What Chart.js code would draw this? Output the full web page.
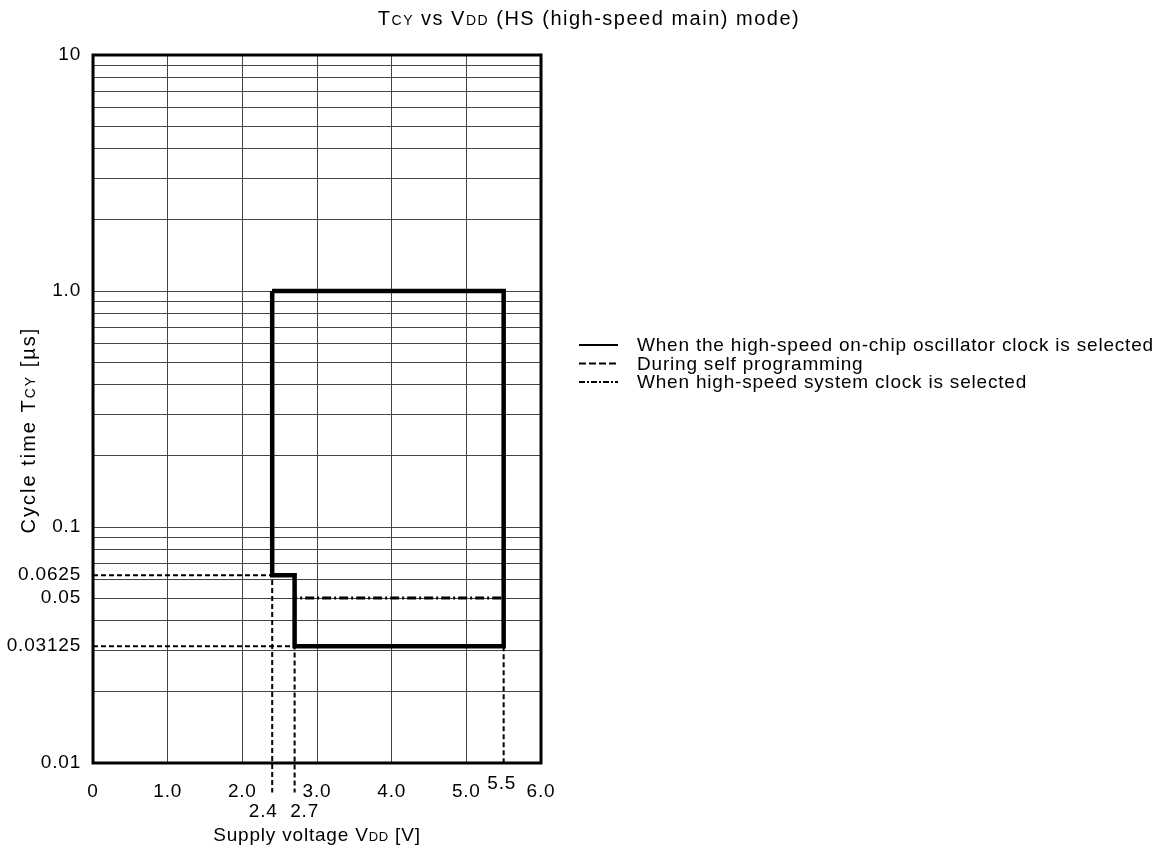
<!DOCTYPE html>
<html>
<head>
<meta charset="utf-8">
<title>TCY vs VDD (HS mode)</title>
<script src="https://cdn.jsdelivr.net/npm/chart.js@4/dist/chart.umd.min.js"></script>
<style>
  body { margin: 0; background: #fff; }
  canvas { display: block; }
</style>
</head>
<body>
<canvas id="tcyChart" width="1169" height="860"></canvas>
<script>
// outline of the operating area (x = VDD [V], y = TCY [us])
const oscVdd = [2.4, 2.4, 2.7, 2.7, 5.5, 5.5, 2.4];
const oscTcy = [1.0, 0.0625, 0.0625, 0.03125, 0.03125, 1.0, 1.0];

const selfProgVdd = [2.4, 2.4, 2.7, 2.7, 5.5, 5.5, 2.4];
const selfProgTcy = [1.0, 0.0625, 0.0625, 0.03125, 0.03125, 1.0, 1.0];

const hsSysVdd = [2.4, 2.4, 2.7, 2.7, 5.5, 5.5, 2.4];
const hsSysTcy = [1.0, 0.0625, 0.0625, 0.05, 0.05, 1.0, 1.0];

// thin dashed guides to the axes (null = break)
const guideVdd = [0, 2.4, 2.4, 2.4, 0, 2.7, 2.7, 2.7, 5.5, 5.5];
const guideTcy = [0.0625, 0.0625, 0.0075, null, 0.03125, 0.03125, 0.0075, null, 0.03125, 0.01];

const yTickValues = [10, 1, 0.1, 0.0625, 0.05, 0.03125, 0.01];
const yTickLabels = ['10', '1.0', '0.1', '0.0625', '0.05', '0.03125', '0.01'];
const xTickValues = [0, 1, 2, 3, 4, 5, 6];
const xTickLabels = ['0', '1.0', '2.0', '3.0', '4.0', '5.0', '6.0'];
const xExtraValues = [2.4, 2.7, 5.5];
const xExtraLabels = ['2.4', '2.7', '5.5'];

const legendLabels = [
  'When the high-speed on-chip oscillator clock is selected',
  'During self programming',
  'When high-speed system clock is selected'
];

const FONT = 'Arial, "Liberation Sans", sans-serif';
const TICK_SPACING = '0.8px';

function toPoints(xs, ys) {
  return xs.map((x, i) => ({ x: x, y: ys[i] }));
}

function sameVal(a, b) {
  return Math.abs(a - b) / b < 1e-6;
}

// log grid: 1..9 in every decade
const yGrid = [];
for (let k = -2; k <= 0; k++) {
  for (let m = 1; m <= 9; m++) yGrid.push(m * Math.pow(10, k));
}
yGrid.push(10);
const yHidden = [0.0625, 0.03125];

// draws text made of parts with different sizes on one baseline
function richText(ctx, parts, x, y, align, spacing) {
  ctx.letterSpacing = spacing;
  let total = 0;
  parts.forEach(p => {
    ctx.font = p.s + 'px ' + FONT;
    total += ctx.measureText(p.t).width;
  });
  let cx = align === 'center' ? x - total / 2 : x;
  ctx.textAlign = 'left';
  ctx.textBaseline = 'alphabetic';
  parts.forEach(p => {
    ctx.font = p.s + 'px ' + FONT;
    ctx.fillText(p.t, cx, y);
    cx += ctx.measureText(p.t).width;
  });
}

const decorPlugin = {
  id: 'decor',
  beforeLayout(chart) {
    chart.ctx.letterSpacing = TICK_SPACING;
  },
  beforeDraw(chart) {
    chart.ctx.letterSpacing = TICK_SPACING;
  },
  afterDraw(chart) {
    const ctx = chart.ctx;
    const area = chart.chartArea;
    const xs = chart.scales.x;
    ctx.save();
    ctx.fillStyle = '#000';

    // frame
    ctx.strokeStyle = '#000';
    ctx.lineWidth = 3;
    ctx.setLineDash([]);
    ctx.strokeRect(area.left, area.top, area.right - area.left, area.bottom - area.top);

    // title
    richText(ctx, [
      { t: 'T', s: 20 }, { t: 'CY', s: 14 }, { t: ' vs V', s: 20 }, { t: 'DD', s: 14 },
      { t: ' (HS (high-speed main) mode)', s: 20 }
    ], 589, 25, 'center', '1.5px');

    // x axis title
    richText(ctx, [
      { t: 'Supply voltage V', s: 19 }, { t: 'DD', s: 13 }, { t: ' [V]', s: 19 }
    ], (area.left + area.right) / 2, 841, 'center', '0.8px');

    // y axis title
    ctx.save();
    ctx.translate(35, 430);
    ctx.rotate(-Math.PI / 2);
    richText(ctx, [
      { t: 'Cycle time T', s: 20 }, { t: 'CY', s: 14 }, { t: ' [\u00b5s]', s: 20 }
    ], 0, 0, 'center', '2px');
    ctx.restore();

    // extra x labels under the guides
    ctx.letterSpacing = TICK_SPACING;
    ctx.font = '19px ' + FONT;
    ctx.textAlign = 'center';
    ctx.textBaseline = 'middle';
    const extraOffset = [[-9, 49], [10, 49], [-2, 21]];
    xExtraValues.forEach((v, i) => {
      const px = xs.getPixelForValue(v);
      ctx.fillText(xExtraLabels[i], px + extraOffset[i][0], area.bottom + extraOffset[i][1]);
    });

    // legend
    const dashes = [[], [7, 3], [6, 2, 2, 2]];
    const lx = 579, ly = 345, step = 18.5;
    legendLabels.forEach((label, i) => {
      const y = ly + i * step;
      ctx.beginPath();
      ctx.lineWidth = 2;
      ctx.setLineDash(dashes[i]);
      ctx.moveTo(lx, y);
      ctx.lineTo(lx + 39, y);
      ctx.stroke();
      ctx.setLineDash([]);
      ctx.font = '19px ' + FONT;
      ctx.textAlign = 'left';
      ctx.textBaseline = 'middle';
      ctx.fillText(label, lx + 58, y + 1);
    });
    ctx.restore();
  }
};

const lineBase = {
  showLine: true,
  pointRadius: 0,
  tension: 0,
  fill: false,
  borderColor: '#000',
  spanGaps: false
};

new Chart(document.getElementById('tcyChart').getContext('2d'), {
  type: 'line',
  data: {
    datasets: [
      Object.assign({}, lineBase, {
        label: legendLabels[0],
        data: toPoints(oscVdd, oscTcy),
        borderWidth: 4.5
      }),
      Object.assign({}, lineBase, {
        label: legendLabels[1],
        data: toPoints(selfProgVdd, selfProgTcy),
        borderWidth: 3,
        borderDash: [7, 3]
      }),
      Object.assign({}, lineBase, {
        label: legendLabels[2],
        data: toPoints(hsSysVdd, hsSysTcy),
        borderWidth: 3,
        borderDash: [9, 3, 2, 3]
      }),
      Object.assign({}, lineBase, {
        label: 'guides',
        data: toPoints(guideVdd, guideTcy),
        borderWidth: 2,
        borderDash: [5, 3],
        clip: false
      })
    ]
  },
  options: {
    responsive: false,
    animation: false,
    devicePixelRatio: 1,
    layout: { padding: { top: 55, right: 628, bottom: 0, left: 0 } },
    plugins: {
      legend: { display: false },
      title: { display: false },
      tooltip: { enabled: false }
    },
    scales: {
      x: {
        type: 'linear',
        min: 0,
        max: 6,
        border: { display: false },
        grid: { color: '#444', lineWidth: 1, drawTicks: false },
        afterBuildTicks: (scale) => {
          scale.ticks = xTickValues.map(v => ({ value: v }));
        },
        afterFit: (scale) => { scale.height = 97; },
        ticks: {
          color: '#000',
          padding: 17,
          maxRotation: 0,
          autoSkip: false,
          font: { family: FONT, size: 19 },
          callback: (value) => {
            const i = xTickValues.indexOf(value);
            return i >= 0 ? xTickLabels[i] : '';
          }
        }
      },
      y: {
        type: 'logarithmic',
        min: 0.01,
        max: 10,
        border: { display: false },
        grid: {
          drawTicks: false,
          lineWidth: 1,
          color: (c) => (c.tick && yHidden.some(h => sameVal(c.tick.value, h))) ? 'rgba(0,0,0,0)' : '#444'
        },
        afterBuildTicks: (scale) => {
          const vals = yGrid.concat(yHidden).sort((a, b) => a - b);
          scale.ticks = vals.map(v => ({ value: v }));
        },
        afterFit: (scale) => { scale.width = 93; },
        ticks: {
          color: '#000',
          padding: 12,
          autoSkip: false,
          font: { family: FONT, size: 19 },
          callback: (value) => {
            const i = yTickValues.findIndex(t => sameVal(value, t));
            return i >= 0 ? yTickLabels[i] : '';
          }
        }
      }
    }
  },
  plugins: [decorPlugin]
});
</script>
</body>
</html>
